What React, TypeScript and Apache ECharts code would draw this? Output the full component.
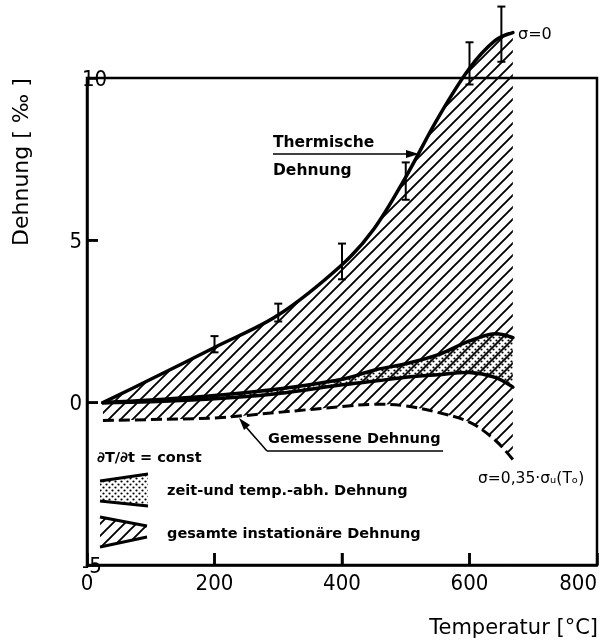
import React, { useEffect, useRef } from 'react';
import * as echarts from 'echarts';

// Temperature grid (°C) shared by all strain curves
const TEMPS = [25, 100, 200, 300, 400, 450, 500, 550, 600, 640, 668];
// Thermische Dehnung (σ = 0), ‰
const THERMAL = [0, 0.72, 1.7, 2.7, 4.25, 5.35, 6.95, 8.75, 10.3, 11.15, 11.4];
// Gemessene Dehnung, ‰
const MEASURED = [-0.55, -0.52, -0.47, -0.3, -0.12, -0.05, -0.1, -0.3, -0.6, -1.15, -1.75];
// Zeit- und temperaturabhängige Dehnung: upper / lower boundary, ‰
const BAND_UPPER = [0, 0.08, 0.22, 0.42, 0.72, 1.0, 1.2, 1.47, 1.9, 2.12, 2.0];
const BAND_LOWER = [0, 0.03, 0.12, 0.28, 0.55, 0.66, 0.78, 0.86, 0.93, 0.78, 0.48];
// Scatter of the thermal strain measurements
const ERR_T = [200, 300, 400, 500, 600, 650];
const ERR_LOW = [1.55, 2.5, 3.8, 6.25, 9.8, 10.5];
const ERR_HIGH = [2.05, 3.05, 4.9, 7.4, 11.1, 12.2];
// Inner tick marks on the frame
const X_TICKS = [200, 400, 600];
const Y_TICKS = [0, 5];

const X_MIN = 0;
const Y_MIN = -5;
const SMOOTH = 0.35;
const FONT = '"DejaVu Sans", sans-serif';
const NUM_FONT = '"DejaVu Sans Condensed", "DejaVu Sans", sans-serif';

type Pt = number[];

function controls(pts: Pt[], s: number) {
  const n = pts.length;
  const cin: Pt[] = [];
  const cout: Pt[] = [];
  for (let i = 0; i < n; i++) {
    const p = pts[i];
    if (i === 0 || i === n - 1) {
      cin.push(p);
      cout.push(p);
      continue;
    }
    const a = pts[i - 1];
    const b = pts[i + 1];
    const vx = b[0] - a[0];
    const vy = b[1] - a[1];
    const d0 = Math.hypot(p[0] - a[0], p[1] - a[1]);
    const d1 = Math.hypot(b[0] - p[0], b[1] - p[1]);
    const r = d1 / (d0 + d1);
    cin.push([p[0] - vx * s * (1 - r), p[1] - vy * s * (1 - r)]);
    cout.push([p[0] + vx * s * r, p[1] + vy * s * r]);
  }
  return { cin, cout };
}

const f = (v: number) => v.toFixed(2);

function forwardPath(pts: Pt[], move: boolean) {
  const { cin, cout } = controls(pts, SMOOTH);
  let d = (move ? 'M' : 'L') + f(pts[0][0]) + ',' + f(pts[0][1]);
  for (let i = 1; i < pts.length; i++) {
    d += 'C' + [cout[i - 1][0], cout[i - 1][1], cin[i][0], cin[i][1], pts[i][0], pts[i][1]].map(f).join(',');
  }
  return d;
}

function backwardPath(pts: Pt[]) {
  const { cin, cout } = controls(pts, SMOOTH);
  const n = pts.length;
  let d = 'L' + f(pts[n - 1][0]) + ',' + f(pts[n - 1][1]);
  for (let i = n - 1; i > 0; i--) {
    d += 'C' + [cin[i][0], cin[i][1], cout[i - 1][0], cout[i - 1][1], pts[i - 1][0], pts[i - 1][1]].map(f).join(',');
  }
  return d;
}

function hatchTile(size: number, lw: number) {
  const c = document.createElement('canvas');
  c.width = size;
  c.height = size;
  const g = c.getContext('2d')!;
  g.strokeStyle = '#000';
  g.lineWidth = lw;
  g.beginPath();
  g.moveTo(-1, size + 1);
  g.lineTo(size + 1, -1);
  g.moveTo(-size / 2 - 1, size / 2 + 1);
  g.lineTo(size / 2 + 1, -size / 2 - 1);
  g.moveTo(size / 2 - 1, size * 1.5 + 1);
  g.lineTo(size * 1.5 + 1, size / 2 - 1);
  g.stroke();
  return c;
}

function dotTile(size: number, r: number) {
  const c = document.createElement('canvas');
  c.width = size;
  c.height = size;
  const g = c.getContext('2d')!;
  g.fillStyle = '#000';
  g.beginPath();
  g.arc(size * 0.25, size * 0.25, r, 0, Math.PI * 2);
  g.fill();
  g.beginPath();
  g.arc(size * 0.75, size * 0.75, r, 0, Math.PI * 2);
  g.fill();
  return c;
}

export default function App() {
  const ref = useRef<HTMLDivElement>(null);

  useEffect(() => {
    if (!ref.current) return;
    const chart = echarts.init(ref.current, undefined, { renderer: 'svg' });

    const hatch = { image: hatchTile(12, 1.9), repeat: 'repeat' };
    const dots = { image: dotTile(6, 1.1), repeat: 'repeat' };

    // Filled region between an upper and a lower curve (dims: T, top, bottom)
    const bandRenderer = (fill: any) => (params: any, api: any) => {
      if (params.dataIndexInside !== 0) return null;
      const n = params.dataInsideLength;
      const top: Pt[] = [];
      const bot: Pt[] = [];
      for (let i = 0; i < n; i++) {
        top.push(api.coord([api.value(0, i), api.value(1, i)]));
        bot.push(api.coord([api.value(0, i), api.value(2, i)]));
      }
      return {
        type: 'path',
        shape: { pathData: forwardPath(top, true) + backwardPath(bot) + 'Z' },
        style: { fill, stroke: null },
      };
    };

    // Smooth stroked curve (dims: T, value)
    const curveRenderer = (style: any) => (params: any, api: any) => {
      if (params.dataIndexInside !== 0) return null;
      const n = params.dataInsideLength;
      const pts: Pt[] = [];
      for (let i = 0; i < n; i++) pts.push(api.coord([api.value(0, i), api.value(1, i)]));
      return {
        type: 'path',
        shape: { pathData: forwardPath(pts, true) },
        style: { fill: null, stroke: '#000', lineCap: 'round', lineJoin: 'round', ...style },
      };
    };

    const rowsOf = (a: number[], b?: number[]) => TEMPS.map((t, i) => (b ? [t, a[i], b[i]] : [t, a[i]]));

    const errRenderer = (params: any, api: any) => {
      const t = api.value(0);
      const lo = api.coord([t, api.value(1)]);
      const hi = api.coord([t, api.value(2)]);
      const w = 4;
      const st = { stroke: '#000', lineWidth: 2 };
      return {
        type: 'group',
        children: [
          { type: 'line', shape: { x1: lo[0], y1: lo[1], x2: hi[0], y2: hi[1] }, style: st },
          { type: 'line', shape: { x1: lo[0] - w, y1: lo[1], x2: lo[0] + w, y2: lo[1] }, style: st },
          { type: 'line', shape: { x1: hi[0] - w, y1: hi[1], x2: hi[0] + w, y2: hi[1] }, style: st },
        ],
      };
    };

    // Inner tick marks: dims T, strain, direction (0 = on x axis, 1 = on y axis)
    const tickRenderer = (params: any, api: any) => {
      const p = api.coord([api.value(0), api.value(1)]);
      const onY = api.value(2) === 1;
      return {
        type: 'line',
        shape: onY
          ? { x1: p[0], y1: p[1], x2: p[0] + 11, y2: p[1] }
          : { x1: p[0], y1: p[1], x2: p[0], y2: p[1] - 12 },
        style: { stroke: '#000', lineWidth: 2.5, fill: null },
      };
    };

    const txt = (text: string, x: number, y: number, size: number, extra: any = {}) => ({
      type: 'text',
      x,
      y,
      z: 20,
      style: {
        text,
        font: `${extra.weight || 'bold'} ${size}px ${FONT}`,
        fill: '#000',
        textAlign: extra.align || 'left',
        textVerticalAlign: 'middle',
      },
      ...(extra.rotation ? { rotation: extra.rotation } : {}),
    });
    const seg = (x1: number, y1: number, x2: number, y2: number, lw = 1.6) => ({
      type: 'line',
      z: 20,
      shape: { x1, y1, x2, y2 },
      style: { stroke: '#000', lineWidth: lw },
    });

    chart.setOption({
      animation: false,
      grid: {
        left: 87,
        right: 4,
        top: 78,
        bottom: 76,
        outerBoundsMode: 'none',
        containLabel: false,
        show: true,
        borderColor: '#000',
        borderWidth: 2.5,
      },
      xAxis: {
        type: 'value',
        min: X_MIN,
        max: 800,
        interval: 200,
        axisLine: { show: true, onZero: false, lineStyle: { color: '#000', width: 2.5 } },
        axisTick: { show: true, inside: true, length: 12, lineStyle: { color: '#000', width: 2.5 } },
        splitLine: { show: false },
        axisLabel: { color: '#000', fontSize: 22, fontFamily: NUM_FONT, margin: 6, alignMaxLabel: 'right' },
      },
      yAxis: {
        type: 'value',
        min: Y_MIN,
        max: 10,
        interval: 5,
        axisLine: { show: true, onZero: false, lineStyle: { color: '#000', width: 2.5 } },
        axisTick: { show: true, inside: true, length: 11, lineStyle: { color: '#000', width: 2.5 } },
        splitLine: { show: false },
        axisLabel: {
          color: '#000',
          fontSize: 22,
          fontFamily: NUM_FONT,
          margin: 5,
          alignMaxLabel: 'top',
          alignMinLabel: 'bottom',
        },
      },
      series: [
        {
          name: 'gesamte instationäre Dehnung',
          type: 'custom',
          z: 1,
          clip: false,
          data: rowsOf(THERMAL, MEASURED),
          encode: { x: 0, y: [1, 2] },
          renderItem: bandRenderer(hatch),
        },
        {
          name: 'zeit- und temp.-abh. Dehnung',
          type: 'custom',
          z: 2,
          clip: false,
          data: rowsOf(BAND_UPPER, BAND_LOWER),
          encode: { x: 0, y: [1, 2] },
          renderItem: bandRenderer(dots),
        },
        {
          name: 'Gemessene Dehnung',
          type: 'custom',
          z: 3,
          clip: false,
          data: rowsOf(MEASURED),
          encode: { x: 0, y: 1 },
          renderItem: curveRenderer({ lineWidth: 3, lineDash: [11, 5], lineCap: 'butt' }),
        },
        {
          name: 'Untere Grenze',
          type: 'custom',
          z: 3,
          clip: false,
          data: rowsOf(BAND_LOWER),
          encode: { x: 0, y: 1 },
          renderItem: curveRenderer({ lineWidth: 3.5 }),
        },
        {
          name: 'Obere Grenze',
          type: 'custom',
          z: 3,
          clip: false,
          data: rowsOf(BAND_UPPER),
          encode: { x: 0, y: 1 },
          renderItem: curveRenderer({ lineWidth: 3.5 }),
        },
        {
          name: 'Thermische Dehnung',
          type: 'custom',
          z: 3,
          clip: false,
          data: rowsOf(THERMAL),
          encode: { x: 0, y: 1 },
          renderItem: curveRenderer({ lineWidth: 3.5 }),
        },
        {
          name: 'Streuung',
          type: 'custom',
          z: 4,
          clip: false,
          data: ERR_T.map((t, i) => [t, ERR_LOW[i], ERR_HIGH[i]]),
          encode: { x: 0, y: [1, 2] },
          renderItem: errRenderer,
        },
        {
          name: 'Teilstriche',
          type: 'custom',
          z: 6,
          clip: false,
          silent: true,
          data: [...X_TICKS.map((t) => [t, Y_MIN, 0]), ...Y_TICKS.map((v) => [X_MIN, v, 1])],
          encode: { x: 0, y: 1 },
          renderItem: tickRenderer,
        },
      ],
      graphic: [
        // axis names
        txt('Dehnung [ ‰ ]', 20, 162, 22, { rotation: Math.PI / 2, align: 'center', weight: 'normal' }),
        txt('Temperatur [°C]', 598, 627, 21, { align: 'right', weight: 'normal' }),
        // thermal strain annotation
        txt('Thermische', 273, 142, 15.5),
        txt('Dehnung', 273, 170, 15.5),
        seg(273, 154, 409, 154),
        { type: 'polygon', z: 20, shape: { points: [[419, 154], [406, 150], [406, 158]] }, style: { fill: '#000' } },
        txt('σ=0', 518, 33, 16, { weight: 'normal' }),
        // measured strain annotation
        txt('Gemessene Dehnung', 268, 438, 14.5),
        seg(246, 427, 267, 451),
        seg(267, 451, 443, 451),
        { type: 'polygon', z: 20, shape: { points: [[239, 418], [250, 425], [244, 430]] }, style: { fill: '#000' } },
        txt('σ=0,35·σᵤ(Tₒ)', 478, 478, 15.5, { weight: 'normal' }),
        // legend
        txt('∂T/∂t = const', 97, 457, 14.5),
        { type: 'polygon', z: 20, shape: { points: [[100, 481], [148, 474], [148, 506], [100, 501]] }, style: { fill: dots } },
        { type: 'polyline', z: 21, shape: { points: [[100, 481], [148, 474]] }, style: { stroke: '#000', lineWidth: 3 } },
        { type: 'polyline', z: 21, shape: { points: [[100, 501], [148, 506]] }, style: { stroke: '#000', lineWidth: 3 } },
        txt('zeit-und temp.-abh. Dehnung', 167, 490, 14.5),
        { type: 'polygon', z: 20, shape: { points: [[100, 517], [147, 526], [147, 537], [100, 547]] }, style: { fill: hatch } },
        { type: 'polyline', z: 21, shape: { points: [[100, 517], [147, 526]] }, style: { stroke: '#000', lineWidth: 3 } },
        { type: 'polyline', z: 21, shape: { points: [[100, 547], [147, 537]] }, style: { stroke: '#000', lineWidth: 3 } },
        txt('gesamte instationäre Dehnung', 167, 533, 14.5),
      ],
    });

    return () => chart.dispose();
  }, []);

  return <div ref={ref} style={{ position: 'fixed', left: 0, top: 0, width: 601, height: 641 }} />;
}
